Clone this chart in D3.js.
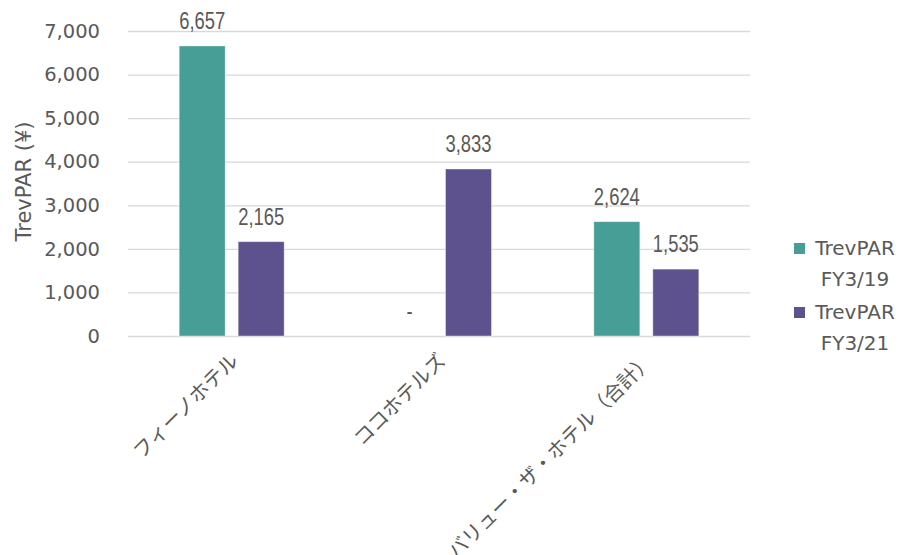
<!DOCTYPE html>
<html>
<head>
<meta charset="utf-8">
<script src="https://cdn.jsdelivr.net/npm/d3@7"></script>
<style>
  body { margin: 0; background: #fff; }
  svg text { fill: #595959; }
</style>
</head>
<body>
<script>
// data
const categories = ["フィーノホテル", "ココホテルズ", "バリュー・ザ・ホテル（合計）"];
const seriesNames = ["TrevPAR FY3/19", "TrevPAR FY3/21"];
const fy19 = [6657, null, 2624];
const fy21 = [2165, 3833, 1535];
const yTicks = [0, 1000, 2000, 3000, 4000, 5000, 6000, 7000];
const colors = ["#479e96", "#5e528e"];

const width = 902;
const height = 555;
const margin = { left: 128, right: 152, top: 31, bottom: 219 };
const svg = d3.select("body").append("svg").attr("width", width).attr("height", height);

const x0 = d3.scaleBand().domain(categories).range([margin.left, width - margin.right]);
const x1 = d3.scaleBand().domain([0, 1]).range([x0.bandwidth() / 2 - 52.5, x0.bandwidth() / 2 + 52.5]).paddingInner(0.22);
const y = d3.scaleLinear().domain([0, 7000]).range([height - margin.bottom, margin.top]);

const latinFont = "'DejaVu Sans', 'Noto Sans', sans-serif";
const cjkFont = "'Noto Sans CJK JP', 'Noto Sans', sans-serif";
const labelFont = "'Liberation Sans', Arial, sans-serif";

// gridlines
svg.append("g")
  .attr("transform", "translate(" + margin.left + ",0)")
  .call(d3.axisLeft(y).tickValues(yTicks).tickSize(-(width - margin.left - margin.right)).tickFormat(""))
  .call(g => g.select(".domain").remove())
  .call(g => g.selectAll("line").attr("stroke", "#d9d9d9").attr("stroke-width", 1.3));

// y axis labels
svg.append("g")
  .attr("transform", "translate(100,0)")
  .call(d3.axisLeft(y).tickValues(yTicks).tickSize(0).tickPadding(0).tickFormat(d3.format(",")))
  .call(g => g.select(".domain").remove())
  .call(g => g.selectAll("text").attr("font-family", latinFont).attr("font-size", 19.5).attr("fill", "#595959"));

svg.append("text")
  .attr("transform", "translate(24," + ((margin.top + height - margin.bottom) / 2 - 2) + ") rotate(-90)")
  .attr("text-anchor", "middle")
  .attr("dy", "0.35em")
  .attr("font-family", latinFont)
  .attr("font-size", 21)
  .text("TrevPAR (¥)");

// bars
const rows = categories.map((c, i) => ({ cat: c, vals: [fy19[i], fy21[i]] }));
const groups = svg.selectAll("g.cat")
  .data(rows)
  .join("g")
  .attr("class", "cat")
  .attr("transform", d => "translate(" + x0(d.cat) + ",0)");

groups.selectAll("rect")
  .data(d => d.vals.map((v, k) => ({ v, k })).filter(e => e.v != null))
  .join("rect")
  .attr("x", e => x1(e.k))
  .attr("width", x1.bandwidth())
  .attr("y", e => y(e.v))
  .attr("height", e => y(0) - y(e.v))
  .attr("fill", e => colors[e.k])
  .attr("stroke", "#ffffff")
  .attr("stroke-opacity", 0.5)
  .attr("stroke-width", 0.8);

// narrow-looking value labels (Liberation Sans squeezed horizontally)
groups.selectAll("text.val")
  .data(d => d.vals.map((v, k) => ({ v, k })))
  .join("text")
  .attr("class", "val")
  .attr("transform", e => "translate(" + (x1(e.k) + x1.bandwidth() / 2) + "," + (y(e.v || 0) - 17) + ") scale(0.8,1)")
  .attr("text-anchor", "middle")
  .attr("font-family", labelFont)
  .attr("font-size", 23)
  .attr("fill", "#404040")
  .text(e => e.v == null ? "-" : d3.format(",")(e.v));

// category labels
svg.selectAll("text.catlab")
  .data(categories)
  .join("text")
  .attr("class", "catlab")
  .attr("transform", d => "translate(" + (x0(d) + x0.bandwidth() / 2 + 8) + "," + (y(0) + 26) + ") rotate(-45)")
  .attr("text-anchor", "end")
  .attr("font-family", cjkFont)
  .attr("font-size", 20)
  .text(d => d);

// legend
const legendY = [248, 312];
seriesNames.forEach((s, i) => {
  const parts = s.split(" ");
  svg.append("rect").attr("x", 794).attr("y", legendY[i] - 5).attr("width", 11).attr("height", 11).attr("fill", colors[i]);
  svg.append("text").attr("x", 855).attr("y", legendY[i]).attr("dy", "0.35em").attr("text-anchor", "middle")
    .attr("font-family", latinFont).attr("font-size", 20).text(parts[0]);
  svg.append("text").attr("x", 855).attr("y", legendY[i] + 31).attr("dy", "0.35em").attr("text-anchor", "middle")
    .attr("font-family", latinFont).attr("font-size", 20).text(parts[1]);
});
</script>
</body>
</html>
